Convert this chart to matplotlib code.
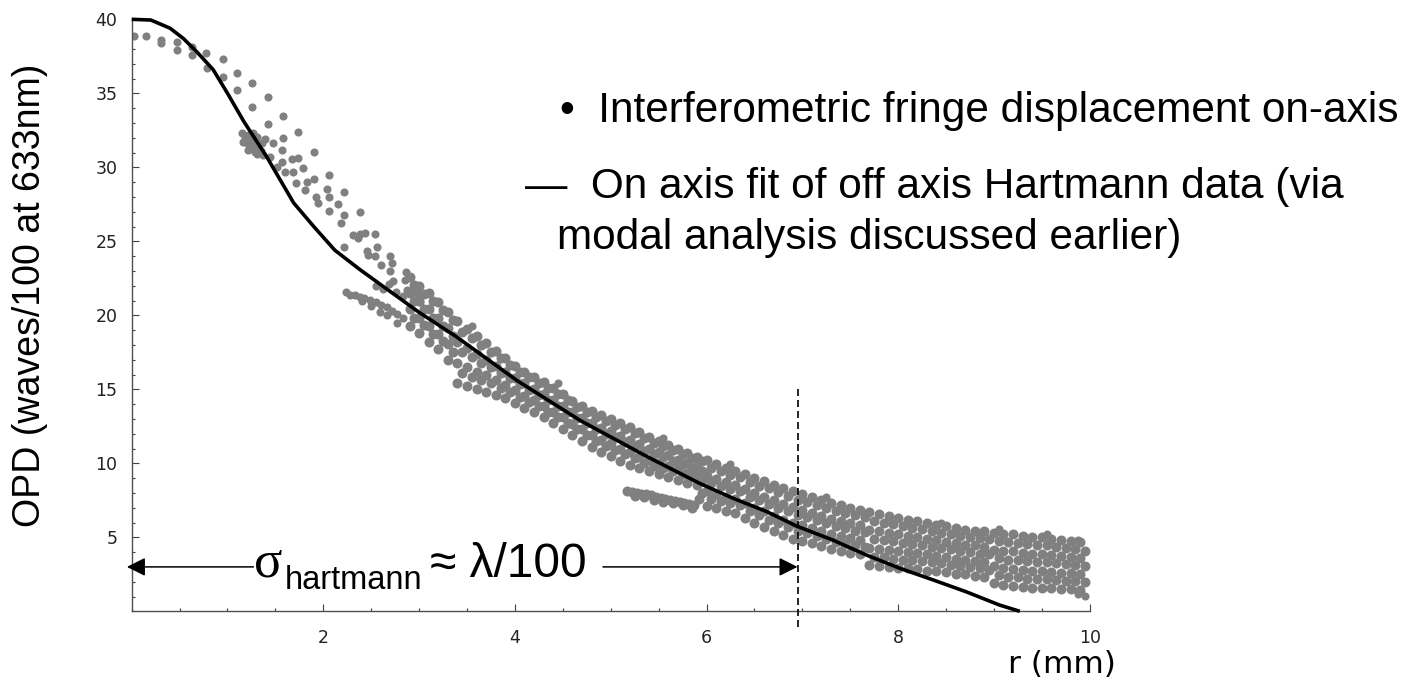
import matplotlib
matplotlib.use("Agg")
import matplotlib.pyplot as plt
from matplotlib.ticker import MultipleLocator

plt.rcParams['font.family'] = ['Liberation Sans', 'DejaVu Sans']

# ---------------- data ----------------
# on-axis fit of off-axis Hartmann data (solid curve)
R_FIT = [0, 0.2, 0.4, 0.54, 0.68, 0.85, 1.0, 1.17, 1.41, 1.69, 1.9, 2.12, 2.38, 2.7,
         3.0, 3.39, 4.02, 4.68, 5.38, 5.93, 6.28, 6.63, 6.94, 7.32, 7.67, 8.02,
         8.37, 8.71, 9.06, 9.27]
OPD_FIT = [40, 39.95, 39.4, 38.7, 37.8, 36.6, 35.0, 33.1, 30.7, 27.6, 26.0, 24.4, 23.1,
           21.6, 20.2, 18.55, 15.6, 12.9, 10.45, 8.64, 7.63, 6.73, 5.76, 4.81, 3.8,
           2.9, 2.11, 1.32, 0.42, 0.0]

# interferometric fringe displacement: sparse early scan lines
EARLY_R = [0.02, 0.15, 0.31, 0.31, 0.47, 0.47, 0.63, 0.63, 0.78, 0.79, 0.95, 0.95,
           1.10, 1.10, 1.26, 1.26, 1.42, 1.42, 1.58, 1.58, 1.74, 1.74, 1.90, 1.90,
           2.06, 2.06, 2.22, 2.22, 2.38, 2.38, 2.54, 2.54, 2.70, 2.70, 2.86]
EARLY_OPD = [38.9, 38.9, 38.6, 38.4, 38.5, 37.9, 38.1, 37.6, 37.7, 36.7, 37.3, 36.1,
             36.4, 35.2, 35.7, 34.1, 34.75, 32.9, 33.5, 32.0, 32.4, 30.6, 31.05, 29.2,
             29.5, 28.0, 28.3, 26.8, 27.0, 25.5, 25.5, 24.0, 24.0, 23.0, 22.9]

# cluster of points starting near r = 1.2 mm
CLUSTER_R = [1.148, 1.183, 1.217, 1.200, 1.252, 1.270, 1.304, 1.235, 1.322, 1.356,
             1.391, 1.287, 1.374, 1.443, 1.478, 1.565, 1.565, 1.670, 1.513, 1.600,
             1.687, 1.784, 1.711, 1.826, 1.809, 1.920, 1.941, 2.035, 2.063, 2.157,
             2.181, 2.219, 2.306, 2.365, 2.435, 2.452, 2.557, 2.470, 2.598, 2.713,
             2.731, 2.852, 2.870, 2.974, 3.009, 1.16, 1.21, 1.27, 1.31, 1.35]
CLUSTER_OPD = [32.3, 31.96, 32.18, 31.62, 31.85, 32.3, 32.07, 31.4, 31.28, 31.62,
               31.91, 31.06, 30.83, 30.72, 31.62, 31.17, 30.38, 30.56, 30.04, 29.71,
               29.71, 29.93, 28.96, 29.03, 28.47, 28.02, 27.57, 28.53, 27.05, 27.5,
               26.22, 24.64, 25.43, 25.25, 25.54, 24.35, 24.64, 24.08, 23.4, 23.51,
               22.32, 22.39, 21.71, 21.49, 20.92, 31.7, 31.2, 31.5, 30.9, 31.1]

# scan line starting near r = 2.24 mm
TRACK_C_R = [2.24, 2.28, 2.33, 2.38, 2.43, 2.49, 2.55, 2.60, 2.66, 2.72, 2.77, 2.83,
             2.59, 2.77, 2.50, 2.66, 2.40, 2.55, 2.62, 2.69, 2.76, 2.83]
TRACK_C_OPD = [21.55, 21.4, 21.35, 21.25, 21.15, 21.05, 20.9, 20.7, 20.55, 20.3, 20.1,
               19.8, 20.25, 19.46, 20.6, 20.0, 20.95, 22.0, 21.8, 22.1, 21.6, 21.3]

# scan line starting near r = 5.17 mm
TRACK_E_R = [5.17, 5.22, 5.27, 5.32, 5.37, 5.42, 5.47, 5.52, 5.57, 5.62, 5.67, 5.72,
             5.77, 5.82, 5.87, 5.25, 5.35, 5.45, 5.55, 5.65, 5.75, 5.85, 5.92, 5.95]
TRACK_E_OPD = [8.1, 8.05, 8.0, 7.95, 7.95, 7.85, 7.75, 7.65, 7.6, 7.5, 7.45, 7.4, 7.3,
               7.25, 7.2, 7.8, 7.7, 7.55, 7.4, 7.3, 7.15, 7.0, 7.6, 8.0]

# dense band of points (rows sampled every 0.1 mm)
BAND_R = [2.9, 3.0, 3.1, 3.2, 3.3, 3.4, 3.5, 3.6, 3.7, 3.8, 3.9, 4.0, 4.1, 4.2, 4.3,
          4.4, 4.5, 4.6, 4.7, 4.8, 4.9, 5.0, 5.1, 5.2, 5.3, 5.4, 5.5, 5.6, 5.7, 5.8,
          5.9, 6.0, 6.1, 6.2, 6.3, 6.4, 6.5, 6.6, 6.7, 6.8, 6.9, 7.0, 7.1, 7.2, 7.3,
          7.4, 7.5, 7.6, 7.7, 7.8, 7.9, 8.0, 8.1, 8.2, 8.3, 8.4, 8.5, 8.6, 8.7, 8.8,
          8.9, 9.0, 9.1, 9.2, 9.3, 9.4, 9.5, 9.6, 9.7, 9.8, 9.9]
BAND_R_STAGGER = [2.95, 3.05, 3.15, 3.25, 3.35, 3.45, 3.55, 3.65, 3.75, 3.85, 3.95,
                  4.05, 4.15, 4.25, 4.35, 4.45, 4.55, 4.65, 4.75, 4.85, 4.95, 5.05,
                  5.15, 5.25, 5.35, 5.45, 5.55, 5.65, 5.75, 5.85, 5.95, 6.05, 6.15,
                  6.25, 6.35, 6.45, 6.55, 6.65, 6.75, 6.85, 6.95, 7.05, 7.15, 7.25,
                  7.35, 7.45, 7.55, 7.65, 7.75, 7.85, 7.95, 8.05, 8.15, 8.25, 8.35,
                  8.45, 8.55, 8.65, 8.75, 8.85, 8.95, 9.05, 9.15, 9.25, 9.35, 9.45,
                  9.55, 9.65, 9.75, 9.85, 9.95]
BAND_ROW0 = [19.3, 18.8, 18.2, 17.7, 17.0, 15.4, 15.2, 15.0, 14.85, 14.6, 14.4,
             14.1, 13.75, 13.45, 13.1, 12.7, 12.3, 11.9, 11.5, 11.1, 10.75,
             10.5, 10.15, 9.9, 9.65, 9.45, 9.3, 9.1, 8.9, 8.7, 8.55,
             7.1, 6.95, 6.8, 6.65, 6.3, 6.0, 5.7, 5.4, 5.15, 4.9,
             4.75, 4.6, 4.4, 4.2, 4.05, 3.95, 3.85, 3.1, 3.05, 3.0,
             2.95, 2.9, 2.85, 2.75, 2.7, 2.65, 2.55, 2.5, 2.4, 2.3,
             1.9, 1.75, 1.7, 1.65, 1.6, 1.6, 1.55, 1.5, 1.5, 1.45]
BAND_ROW1 = [19.85, 19.35, 18.75, 18.25, 17.55, 16.1, 15.85, 15.6, 15.4, 15.1, 14.85,
             14.5, 14.15, 13.85, 13.5, 13.1, 12.7, 12.3, 11.9, 11.5, 11.15,
             10.9, 10.6, 10.35, 10.05, 9.85, 9.65, 9.45, 9.25, 9.05, 8.85,
             7.6, 7.45, 7.3, 7.15, 6.8, 6.5, 6.2, 5.95, 5.7, 5.45,
             5.3, 5.1, 4.9, 4.7, 4.55, 4.45, 4.35, 3.7, 3.65, 3.55,
             3.5, 3.45, 3.4, 3.3, 3.25, 3.15, 3.05, 3.0, 2.9, 2.8,
             2.45, 2.35, 2.3, 2.2, 2.2, 2.15, 2.1, 2.05, 2.05, 2.0]
BAND_ROW2 = [20.4, 19.85, 19.3, 18.75, 18.05, 16.8, 16.5, 16.2, 15.95, 15.6, 15.3,
             14.95, 14.55, 14.25, 13.9, 13.5, 13.1, 12.65, 12.3, 11.9, 11.6,
             11.35, 11.0, 10.75, 10.45, 10.25, 10.05, 9.8, 9.6, 9.35, 9.2,
             8.15, 7.95, 7.75, 7.6, 7.3, 7.0, 6.75, 6.45, 6.2, 5.95,
             5.8, 5.65, 5.45, 5.25, 5.1, 4.95, 4.85, 4.3, 4.2, 4.15,
             4.05, 4.0, 3.95, 3.85, 3.75, 3.7, 3.55, 3.5, 3.4, 3.35,
             3.05, 2.9, 2.85, 2.8, 2.75, 2.75, 2.65, 2.6, 2.6, 2.5]
BAND_ROW3 = [20.95, 20.4, 19.85, 19.3, 18.6, 17.5, 17.15, 16.8, 16.5, 16.1, 15.75,
             15.35, 14.95, 14.6, 14.3, 13.9, 13.5, 13.05, 12.7, 12.3, 12.0,
             11.75, 11.45, 11.2, 10.85, 10.6, 10.4, 10.15, 9.95, 9.7, 9.5,
             8.65, 8.45, 8.25, 8.1, 7.75, 7.5, 7.25, 7.0, 6.75, 6.5,
             6.35, 6.15, 5.95, 5.75, 5.6, 5.45, 5.35, 4.9, 4.8, 4.75,
             4.6, 4.55, 4.5, 4.35, 4.3, 4.2, 4.1, 4.0, 3.9, 3.85,
             3.6, 3.5, 3.45, 3.4, 3.35, 3.3, 3.25, 3.2, 3.1, 3.05]
BAND_ROW4 = [21.5, 20.95, 20.4, 19.85, 19.15, 18.2, 17.8, 17.4, 17.0, 16.6, 16.2,
             15.75, 15.4, 15.0, 14.7, 14.3, 13.9, 13.45, 13.05, 12.75, 12.4,
             12.15, 11.85, 11.6, 11.3, 11.0, 10.75, 10.55, 10.25, 10.05, 9.8,
             9.15, 8.95, 8.75, 8.55, 8.25, 8.0, 7.75, 7.5, 7.25, 7.05,
             6.85, 6.65, 6.45, 6.25, 6.1, 6.0, 5.85, 5.5, 5.4, 5.3,
             5.2, 5.1, 5.0, 4.9, 4.8, 4.7, 4.6, 4.5, 4.45, 4.35,
             4.15, 4.1, 4.05, 3.95, 3.9, 3.85, 3.8, 3.75, 3.65, 3.6]
BAND_ROW5 = [22.05, 21.45, 20.95, 20.35, 19.65, 18.9, 18.45, 18.0, 17.55, 17.1, 16.65,
             16.2, 15.8, 15.4, 15.1, 14.7, 14.3, 13.8, 13.45, 13.15, 12.85,
             12.6, 12.3, 12.05, 11.7, 11.4, 11.15, 10.9, 10.6, 10.35, 10.15,
             9.7, 9.45, 9.2, 9.05, 8.75, 8.5, 8.3, 8.05, 7.8, 7.55,
             7.4, 7.2, 7.0, 6.8, 6.65, 6.5, 6.35, 6.1, 5.95, 5.9,
             5.75, 5.65, 5.55, 5.4, 5.3, 5.25, 5.1, 5.0, 4.95, 4.9,
             4.75, 4.65, 4.6, 4.55, 4.5, 4.45, 4.35, 4.3, 4.2, 4.1]
BAND_ROW6 = [22.6, 22.0, 21.5, 20.9, 20.2, 19.6, 19.1, 18.6, 18.1, 17.6, 17.1,
             16.6, 16.2, 15.8, 15.5, 15.1, 14.7, 14.2, 13.85, 13.55, 13.25,
             13.0, 12.7, 12.45, 12.1, 11.8, 11.5, 11.25, 10.95, 10.7, 10.45,
             10.2, 9.95, 9.7, 9.5, 9.25, 9.0, 8.8, 8.55, 8.3, 8.1,
             7.9, 7.7, 7.5, 7.3, 7.15, 7.0, 6.85, 6.7, 6.55, 6.45,
             6.3, 6.2, 6.1, 5.95, 5.85, 5.75, 5.6, 5.5, 5.45, 5.4,
             5.3, 5.25, 5.2, 5.1, 5.05, 5.0, 4.9, 4.85, 4.75, 4.65]

# isolated points at the edges of the band
EXTRA_R = [3.55, 4.45, 5.55, 6.25, 7.25, 8.45, 9.05, 9.55, 9.88, 9.88, 9.95]
EXTRA_OPD = [19.3, 15.4, 11.7, 9.95, 7.7, 6.0, 5.55, 5.25, 4.85, 1.2, 1.05]

# annotation values
CUT_R = 6.95                 # r where the sigma estimate ends (dashed line)
CUT_OPD_SPAN = [15.0, -1.3]  # vertical extent of the dashed marker
ARROW_OPD = 3.0              # height of the double arrow
ARROW_LEFT = (-0.05, 1.27)   # tip, tail of left arrow
ARROW_RIGHT = (6.95, 4.92)   # tip, tail of right arrow

X_TICKS = [2, 4, 6, 8, 10]
Y_TICKS = [5, 10, 15, 20, 25, 30, 35, 40]

# ---------------- figure ----------------
W, H, DPI = 1420, 684, 100
fig = plt.figure(figsize=(W / DPI, H / DPI), dpi=DPI)
fig.patch.set_facecolor('white')
ax = fig.add_axes([131.7 / W, 72.7 / H, 958.0 / W, 592.0 / H])

DOT = dict(s=34, c='#808080', linewidths=0, zorder=2)
DOT_DENSE = dict(s=52, c='#808080', linewidths=0, zorder=2)
ax.scatter(EARLY_R, EARLY_OPD, **DOT)
ax.scatter(CLUSTER_R, CLUSTER_OPD, **DOT)
ax.scatter(TRACK_C_R, TRACK_C_OPD, **DOT)
ax.scatter(TRACK_E_R, TRACK_E_OPD, **DOT_DENSE)
for row in (BAND_ROW0, BAND_ROW2, BAND_ROW4, BAND_ROW6):
    ax.scatter(BAND_R, row, **DOT_DENSE)
for row in (BAND_ROW1, BAND_ROW3, BAND_ROW5):
    ax.scatter(BAND_R_STAGGER, row, **DOT_DENSE)
ax.scatter(EXTRA_R, EXTRA_OPD, **DOT)

ax.plot(R_FIT, OPD_FIT, color='black', lw=2.6, zorder=3, clip_on=False,
        solid_capstyle='butt', solid_joinstyle='round')

ax.plot([CUT_R, CUT_R], CUT_OPD_SPAN, color='black', lw=1.2,
        linestyle=(0, (4.2, 2.4)), clip_on=False, zorder=4)

arrowprops = dict(arrowstyle='-|>,head_length=0.4,head_width=0.2', mutation_scale=28,
                  lw=1.1, color='black', shrinkA=0, shrinkB=0)
ax.annotate('', xy=(ARROW_LEFT[0], ARROW_OPD), xytext=(ARROW_LEFT[1], ARROW_OPD),
            arrowprops=arrowprops, annotation_clip=False, zorder=5)
ax.annotate('', xy=(ARROW_RIGHT[0], ARROW_OPD), xytext=(ARROW_RIGHT[1], ARROW_OPD),
            arrowprops=arrowprops, annotation_clip=False, zorder=5)

ax.set_xlim(0, 10)
ax.set_ylim(0, 40)
ax.set_xticks(X_TICKS)
ax.set_yticks(Y_TICKS)
ax.xaxis.set_minor_locator(MultipleLocator(0.5))
ax.yaxis.set_minor_locator(MultipleLocator(1))
for side in ('top', 'right'):
    ax.spines[side].set_visible(False)
for side in ('left', 'bottom'):
    ax.spines[side].set_color('#505050')
    ax.spines[side].set_linewidth(1.0)
ax.tick_params(which='both', direction='in', color='#444444', width=0.8,
               top=False, right=False)
ax.tick_params(which='major', length=4.8)
ax.tick_params(which='minor', length=2.4)
ax.tick_params(axis='x', which='major', pad=13, labelsize=12.5, labelcolor='#222222')
ax.tick_params(axis='y', which='major', pad=10.4, labelsize=12.5, labelcolor='#222222')
for lbl in ax.get_xticklabels() + ax.get_yticklabels():
    lbl.set_fontfamily('DejaVu Sans')

# axis titles
fig.text(30.5 / W, 1 - 295 / H, 'OPD (waves/100 at 633nm)', rotation=90,
         ha='center', va='center', fontsize=27, color='black')
fig.text(1008 / W, 1 - 673.3 / H, 'r (mm)', ha='left', va='baseline',
         fontsize=22.5, family='DejaVu Sans', color='black')

# legend-like text
fig.text(560 / W, 1 - 121.7 / H, '\u2022  Interferometric fringe displacement on-axis',
         ha='left', va='baseline', fontsize=30.5, color='black')
fig.text(525 / W, 1 - 198.3 / H, '\u2014  On axis fit of off axis Hartmann data (via',
         ha='left', va='baseline', fontsize=30.5, color='black')
fig.text(557 / W, 1 - 249.3 / H, 'modal analysis discussed earlier)',
         ha='left', va='baseline', fontsize=30.5, color='black')

# sigma annotation
fig.text(254 / W, 1 - 576.7 / H, '\u03c3', ha='left', va='baseline', fontsize=38,
         family=['Liberation Serif', 'DejaVu Serif'], color='black')
fig.text(285 / W, 1 - 589 / H, 'hartmann', ha='left', va='baseline', fontsize=23.5,
         color='black')
fig.text(430 / W, 1 - 576.7 / H, '\u2248 \u03bb/100', ha='left', va='baseline',
         fontsize=34.5, color='black')

fig.savefig('out.png', dpi=DPI, facecolor='white')
